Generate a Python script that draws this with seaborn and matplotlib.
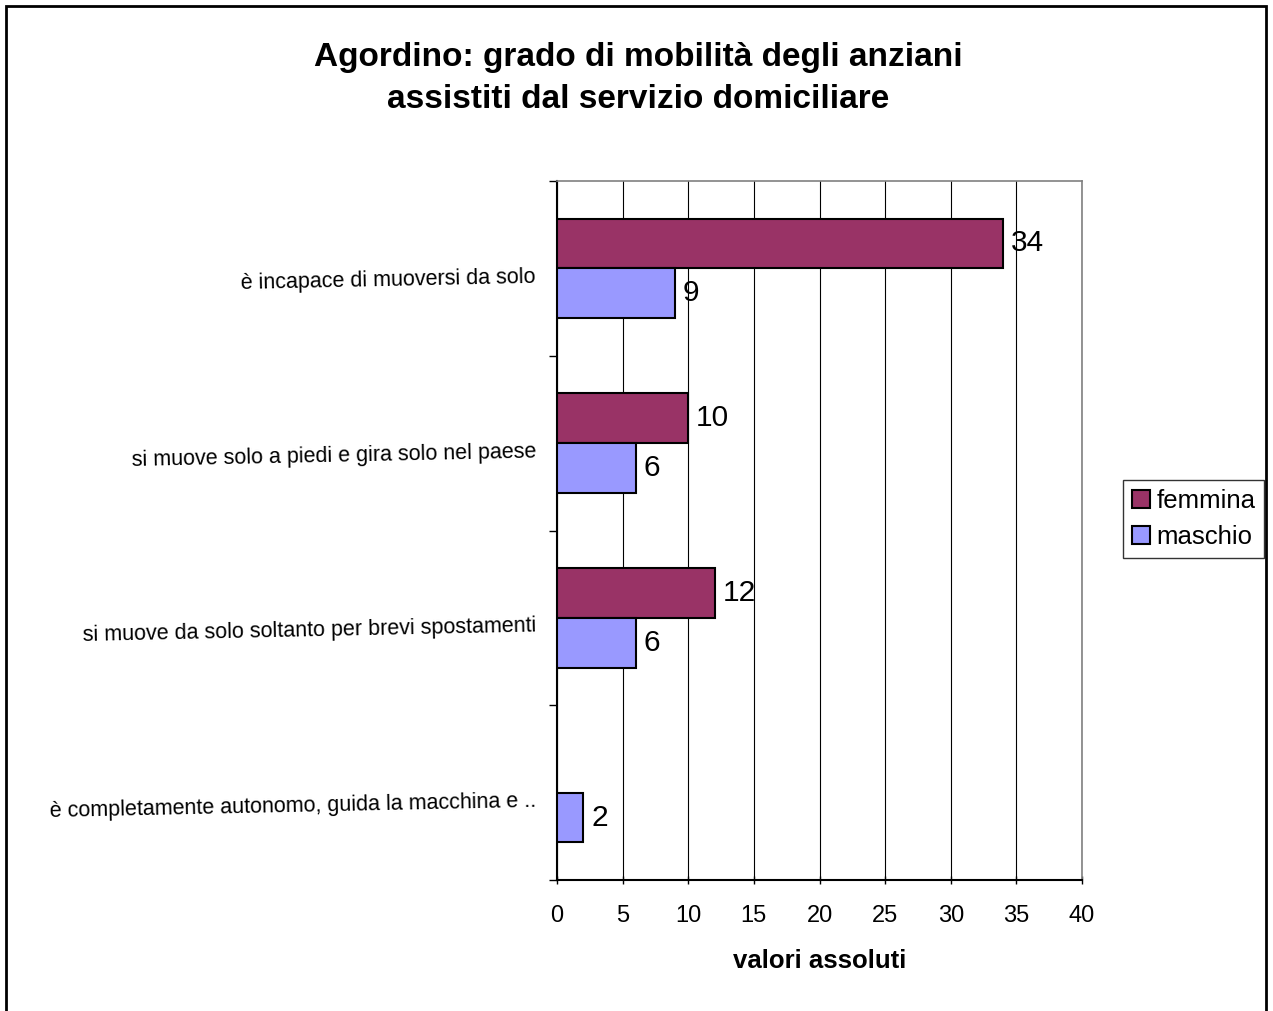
import matplotlib
matplotlib.use("Agg")
import matplotlib.pyplot as plt
import matplotlib.transforms as mtransforms
import seaborn as sns
import pandas as pd
import numpy as np
from matplotlib.patches import Rectangle, Patch

categories = [
    "è incapace di muoversi da solo",
    "si muove solo a piedi e gira solo nel paese",
    "si muove da solo soltanto per brevi spostamenti",
    "è completamente autonomo, guida la macchina e ..",
]
femmina = [34, 10, 12, None]
maschio = [9, 6, 6, 2]
series = ["femmina", "maschio"]
colors = {"femmina": "#993366", "maschio": "#9999FF"}

rows = []
for c, f, m in zip(categories, femmina, maschio):
    if f is not None:
        rows.append({"cat": c, "sex": "femmina", "val": f})
    if m is not None:
        rows.append({"cat": c, "sex": "maschio", "val": m})
df = pd.DataFrame(rows)

sns.set_style("white")
plt.rcParams["font.family"] = ["Liberation Sans", "DejaVu Sans"]
plt.rcParams["text.color"] = "black"
plt.rcParams["axes.labelcolor"] = "black"
plt.rcParams["xtick.color"] = "black"
plt.rcParams["ytick.color"] = "black"

fig = plt.figure(figsize=(12.73, 10.11), dpi=100)
ax = fig.add_axes([557/1273, 1-880/1011, (1082-557)/1273, (880-181)/1011])

sns.barplot(data=df, y="cat", x="val", hue="sex", order=categories,
            hue_order=series, palette=colors, orient="h", width=0.57,
            saturation=1, edgecolor="black", linewidth=1.5, ax=ax,
            legend=False, zorder=3)

for cont in ax.containers:
    for bar in cont:
        w = bar.get_width()
        if np.isnan(w):
            continue
        ax.text(w + 0.6, bar.get_y() + bar.get_height()/2, f"{int(w)}",
                va="center", ha="left", fontsize=21.5, color="black", zorder=4)

ax.set_xlim(0, 40)
ax.set_ylim(3.5, -0.5)
ax.set_xticks(np.arange(0, 41, 5))
ax.set_xticklabels([str(v) for v in range(0, 41, 5)], fontsize=17)
ax.set_yticks(range(len(categories)))
ax.set_yticklabels(categories, fontsize=15.5, rotation=1.2)
ax.set_yticks(np.arange(-0.5, 4.0, 1.0), minor=True)
ax.tick_params(axis="y", which="major", length=0, pad=15)
ax.tick_params(axis="y", which="minor", length=6, width=1, color="black", direction="out", left=True)
ax.tick_params(axis="x", which="major", length=6, width=1, color="black", direction="inout", bottom=True, pad=15)
ax.grid(axis="x", color="black", linewidth=0.8, zorder=0)
ax.grid(axis="y", visible=False)
ax.set_axisbelow(True)
ax.set_ylabel("")
ax.set_xlabel("valori assoluti", fontsize=18.5, fontweight="bold", labelpad=16)

offset = mtransforms.ScaledTranslation(0, -6/100, fig.dpi_scale_trans)
for lbl in ax.get_yticklabels():
    lbl.set_transform(lbl.get_transform() + offset)

for s in ["top", "right"]:
    ax.spines[s].set_color("#808080")
    ax.spines[s].set_linewidth(1.2)
for s in ["left", "bottom"]:
    ax.spines[s].set_color("black")
    ax.spines[s].set_linewidth(1.5)

fig.suptitle("Agordino: grado di mobilità degli anziani\nassistiti dal servizio domiciliare",
             x=638/1273, y=1-42/1011, fontsize=24, fontweight="bold", linespacing=1.45,
             va="top", color="black")

handles = [Patch(facecolor=colors[s], edgecolor="black", linewidth=1.5, label=s) for s in series]
leg = fig.legend(handles=handles, loc="center left", bbox_to_anchor=(1123/1273, 1-519/1011),
                 fontsize=18.5, frameon=True, fancybox=False, edgecolor="black",
                 handlelength=0.7, handleheight=0.7, handletextpad=0.25, borderpad=0.35,
                 labelspacing=0.5, borderaxespad=0)
leg.get_frame().set_linewidth(1.0)

fig.patches.append(Rectangle((6/1273, -0.02), (1266-6)/1273, 1.02 - 6/1011,
                             transform=fig.transFigure, fill=False, edgecolor="black",
                             linewidth=2, zorder=10))

fig.savefig("out.png", dpi=100)
